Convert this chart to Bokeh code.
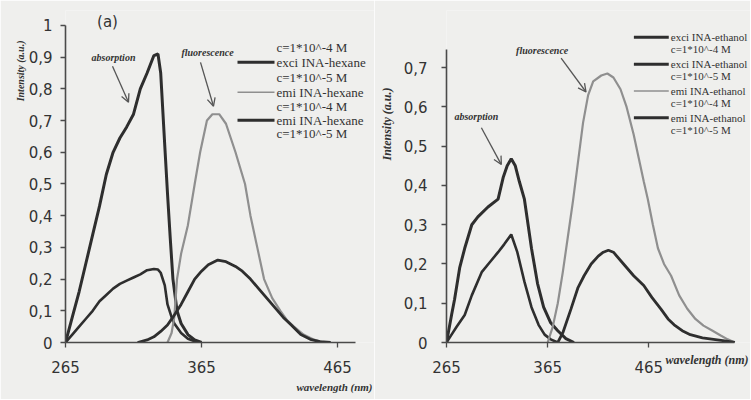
import math
from bokeh.plotting import figure
from bokeh.layouts import row
from bokeh.models import Range1d, FixedTicker, CustomJSTickFormatter, Label, Arrow, OpenHead, Title
from bokeh.embed import file_html
from bokeh.resources import INLINE

# ---------------- data: panel (a) hexane ----------------
wl_abs_hex_hi = [265, 270, 275, 280, 285, 290, 295, 300, 305, 310, 315, 320, 325, 330, 333, 335, 338, 340, 342, 344, 347, 350, 355, 360, 365]
abs_hex_hi = [0, 0.08, 0.16, 0.25, 0.34, 0.43, 0.53, 0.60, 0.645, 0.68, 0.72, 0.80, 0.85, 0.905, 0.91, 0.85, 0.62, 0.47, 0.33, 0.20, 0.10, 0.06, 0.025, 0.008, 0]

wl_abs_hex_lo = [265, 270, 275, 280, 285, 290, 295, 300, 305, 310, 315, 320, 325, 330, 333, 335, 338, 340, 343, 345, 350, 355, 360, 365]
abs_hex_lo = [0, 0.025, 0.05, 0.075, 0.10, 0.13, 0.15, 0.17, 0.185, 0.195, 0.205, 0.215, 0.228, 0.232, 0.23, 0.22, 0.18, 0.12, 0.08, 0.06, 0.03, 0.012, 0.004, 0]

wl_emi_hex_hi = [340, 343, 345, 347, 350, 355, 360, 364, 369, 373, 378, 383, 390, 397, 401, 406, 411, 417, 423, 428, 433, 440, 447, 455]
emi_hex_hi = [0, 0.03, 0.08, 0.20, 0.28, 0.37, 0.50, 0.60, 0.70, 0.72, 0.72, 0.69, 0.60, 0.50, 0.40, 0.30, 0.20, 0.14, 0.10, 0.07, 0.05, 0.025, 0.01, 0]

wl_emi_hex_lo = [318, 325, 330, 335, 340, 344, 350, 355, 360, 365, 370, 377, 383, 390, 395, 401, 407, 413, 419, 425, 431, 438, 445, 452, 460]
emi_hex_lo = [0, 0.008, 0.018, 0.035, 0.055, 0.08, 0.12, 0.16, 0.20, 0.225, 0.245, 0.26, 0.255, 0.24, 0.225, 0.20, 0.17, 0.14, 0.11, 0.08, 0.055, 0.025, 0.01, 0.003, 0]

# ---------------- data: panel (b) ethanol ----------------
wl_abs_eth_hi = [265, 270, 273, 278, 283, 290, 296, 306, 316, 321, 325, 329, 333, 337, 342, 349, 355, 361, 368, 375, 383, 391]
abs_eth_hi = [0, 0.07, 0.11, 0.19, 0.24, 0.30, 0.32, 0.345, 0.365, 0.42, 0.45, 0.468, 0.45, 0.41, 0.365, 0.24, 0.15, 0.09, 0.05, 0.03, 0.01, 0]

wl_abs_eth_lo = [265, 270, 275, 283, 290, 300, 308, 316, 322, 329, 335, 342, 349, 356, 362, 368, 375]
abs_eth_lo = [0, 0.02, 0.04, 0.07, 0.12, 0.18, 0.205, 0.23, 0.25, 0.275, 0.23, 0.155, 0.09, 0.045, 0.02, 0.008, 0]

wl_emi_eth_hi = [365, 370, 375, 380, 385, 390, 395, 400, 405, 410, 418, 424, 430, 437, 443, 450, 455, 460, 464, 469, 474, 480, 487, 495, 503, 511, 519, 528, 536, 543, 550]
emi_eth_hi = [0, 0.04, 0.10, 0.18, 0.27, 0.36, 0.46, 0.56, 0.63, 0.665, 0.68, 0.685, 0.675, 0.645, 0.60, 0.53, 0.47, 0.41, 0.365, 0.30, 0.24, 0.20, 0.17, 0.12, 0.086, 0.06, 0.043, 0.03, 0.018, 0.008, 0]

wl_emi_eth_lo = [375, 380, 388, 395, 401, 408, 415, 420, 425, 430, 440, 450, 460, 468, 477, 484, 490, 498, 506, 518, 529, 540, 550]
emi_eth_lo = [0, 0.025, 0.085, 0.14, 0.17, 0.20, 0.22, 0.23, 0.235, 0.23, 0.20, 0.17, 0.145, 0.115, 0.085, 0.06, 0.045, 0.03, 0.02, 0.012, 0.008, 0.004, 0]

# ---------------- ticks & texts ----------------
x_ticks = [265, 365, 465]
y_ticks_a = [0, 0.1, 0.2, 0.3, 0.4, 0.5, 0.6, 0.7, 0.8, 0.9, 1.0]
y_labels_a = ["0", "0,1", "0,2", "0,3", "0,4", "0,5", "0,6", "0,7", "0,8", "0,9", "1"]
y_ticks_b = [0, 0.1, 0.2, 0.3, 0.4, 0.5, 0.6, 0.7]
y_labels_b = ["0", "0,1", "0,2", "0,3", "0,4", "0,5", "0,6", "0,7"]

legend_a = ["c=1*10^-4 M", "exci INA-hexane", "c=1*10^-5 M", "emi INA-hexane", "c=1*10^-4 M", "emi INA-hexane", "c=1*10^-5 M"]
legend_b_names = ["exci INA-ethanol", "exci INA-ethanol", "emi INA-ethanol", "emi INA-ethanol"]
legend_b_conc = ["c=1*10^-4 M", "c=1*10^-5 M", "c=1*10^-4 M", "c=1*10^-5 M"]

BG = "#efefed"
DARK = "#2e2e2e"
GREY = "#8f8f8f"
TXT = "#333333"

FIG_H = 399


def make_fig(left_px, right_px, frame_left_px, y0_px, px_per_nm, px_per_unit, frame_top_px, yticks, ylabels, xbounds, ybounds, ystandoff):
    width = right_px - left_px
    min_left = frame_left_px - left_px
    frame_w = right_px - frame_left_px
    x_end = 265 + frame_w / px_per_nm
    y_end = (y0_px - frame_top_px) / px_per_unit
    p = figure(width=width, height=FIG_H, x_range=Range1d(265, x_end), y_range=Range1d(0, y_end),
               output_backend="svg", toolbar_location=None,
               min_border_left=min_left, min_border_right=0,
               min_border_top=frame_top_px, min_border_bottom=FIG_H - y0_px)
    p.background_fill_color = BG
    p.border_fill_color = BG
    p.outline_line_color = None
    p.grid.visible = False
    for ax in (p.xaxis[0], p.yaxis[0]):
        ax.axis_line_color = "#4a4a4a"
        ax.axis_line_width = 1.6
        ax.major_tick_line_color = "#4a4a4a"
        ax.major_tick_line_width = 1.3
        ax.major_tick_out = 5
        ax.major_tick_in = 0
        ax.minor_tick_line_color = None
        ax.major_label_text_font = "DejaVu Sans"
        ax.major_label_text_font_size = "15px"
        ax.major_label_text_color = TXT
    p.xaxis.ticker = FixedTicker(ticks=x_ticks)
    p.xaxis.bounds = xbounds
    p.xaxis.major_label_standoff = 13
    p.yaxis.ticker = FixedTicker(ticks=yticks)
    p.yaxis.bounds = ybounds
    p.yaxis.major_label_standoff = ystandoff
    p.yaxis.formatter = CustomJSTickFormatter(args=dict(tv=yticks, tl=ylabels), code="""
        const i = tv.findIndex(t => Math.abs(t - tick) < 1e-6);
        return i >= 0 ? tl[i] : '';
    """)
    return p


# pixel geometry of both panels (page pixels)
A = dict(x0=65, y0=343, sx=1.36, sy=318)
B = dict(x0=445, y0=344, sx=1.015, sy=395)


def conv(g):
    return lambda px, py: (265 + (px - g["x0"]) / g["sx"], (g["y0"] - py) / g["sy"])


ca = conv(A)
cb = conv(B)

SPLIT = 374
pa = make_fig(0, SPLIT, A["x0"], A["y0"], A["sx"], A["sy"], 10, y_ticks_a, y_labels_a, (265, 478), (0, 1), 8)
pb = make_fig(SPLIT, 750, B["x0"], B["y0"], B["sx"], B["sy"], 10, y_ticks_b, y_labels_b, (265, 550), (0, 0.745), 14)

# curves
pa.line(wl_abs_hex_hi, abs_hex_hi, line_color=DARK, line_width=3)
pa.line(wl_abs_hex_lo, abs_hex_lo, line_color=DARK, line_width=2.6)
pa.line(wl_emi_hex_hi, emi_hex_hi, line_color=GREY, line_width=2.2)
pa.line(wl_emi_hex_lo, emi_hex_lo, line_color=DARK, line_width=2.8)

pb.line(wl_abs_eth_hi, abs_eth_hi, line_color=DARK, line_width=3)
pb.line(wl_abs_eth_lo, abs_eth_lo, line_color=DARK, line_width=2.6)
pb.line(wl_emi_eth_hi, emi_eth_hi, line_color=GREY, line_width=2.2)
pb.line(wl_emi_eth_lo, emi_eth_lo, line_color=DARK, line_width=2.8)


def lab(p, c, px, py, text, size, style="bold italic", font="Liberation Serif", align="center", angle=0, color=TXT):
    x, y = c(px, py)
    p.add_layout(Label(x=x, y=y, text=text, text_font=font, text_font_size=f"{size}px",
                       text_font_style=style, text_align=align, text_baseline="middle",
                       angle=angle, text_color=color))


def arrow(p, c, p0, p1):
    x0, y0 = c(*p0)
    x1, y1 = c(*p1)
    p.add_layout(Arrow(x_start=x0, y_start=y0, x_end=x1, y_end=y1, line_color="#555555", line_width=1.3,
                       end=OpenHead(size=8, line_color="#555555", line_width=1.3)))


def seg(p, c, xa, xb, py, color, w):
    x0, y = c(xa, py)
    x1, _ = c(xb, py)
    p.segment(x0=[x0], y0=[y], x1=[x1], y1=[y], line_color=color, line_width=w)


def side_title(p, side, text, size, align, offset, standoff, valign="bottom"):
    p.add_layout(Title(text=text, align=align, offset=offset, standoff=standoff, vertical_align=valign,
                       text_font="Liberation Serif", text_font_style="bold italic",
                       text_font_size=f"{size}px", text_color=TXT), side)


# panel (a) texts
lab(pa, ca, 107, 22, "(a)", 15, style="normal", font="DejaVu Sans")
side_title(pa, "left", "Intensity (a.u.)", 10, "right", 30, 0)
side_title(pa, "below", "wavelength (nm)", 11, "right", 2, 10, valign="top")
lab(pa, ca, 113, 57, "absorption", 10)
arrow(pa, ca, (112, 66), (128, 102))
lab(pa, ca, 207, 52, "fluorescence", 10)
arrow(pa, ca, (200, 62), (213, 106))
leg_y_a = [47, 62, 77, 92, 106, 120, 133]
for t, yy in zip(legend_a, leg_y_a):
    lab(pa, ca, 276, yy, t, 13, style="normal", align="left")
seg(pa, ca, 237, 274, 62, DARK, 3)
seg(pa, ca, 237, 274, 92, GREY, 1.6)
seg(pa, ca, 237, 274, 120, DARK, 3)

# panel (b) texts
side_title(pb, "left", "Intensity (a.u.)", 12, "right", 77, 10, valign="top")
side_title(pb, "below", "wavelength (nm)", 12, "right", 2, -46, valign="top")
lab(pb, cb, 475, 117, "absorption", 10)
arrow(pb, cb, (480, 128), (500, 165))
lab(pb, cb, 541, 50, "fluorescence", 10)
arrow(pb, cb, (560, 58), (585, 92))
leg_y_b = [37, 64, 91, 118]
leg_col_b = [DARK, DARK, GREY, DARK]
leg_w_b = [3, 3, 1.6, 3]
for name, conc, yy, col, w in zip(legend_b_names, legend_b_conc, leg_y_b, leg_col_b, leg_w_b):
    seg(pb, cb, 633, 668, yy, col, w)
    lab(pb, cb, 670, yy, name, 11, style="normal", align="left")
    lab(pb, cb, 670, yy + 12, conc, 11, style="normal", align="left")

layout = row(pa, pb)
open("out.html", "w").write(file_html(layout, INLINE))
